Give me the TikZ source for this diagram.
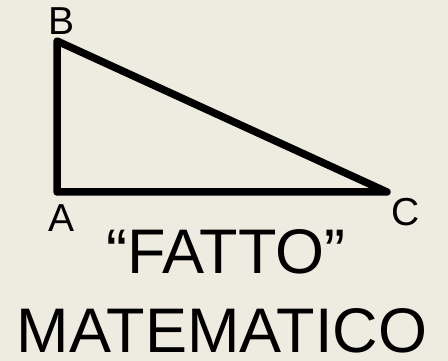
\documentclass[tikz,border=0pt]{standalone}
\usepackage{fontspec}
\setmainfont{Liberation Sans}
\definecolor{paperbeige}{RGB}{238, 235, 225}

\begin{document}
\begin{tikzpicture}[
        x=1pt, y=-1pt,
        every node/.style={align=center},
        vlabel/.style={font=\fontsize{39}{39}\selectfont, inner sep=0pt},
        bigtext/.style={font=\fontsize{63}{63}\selectfont, anchor=base, inner sep=0pt}
    ]
        % Background
        \fill[paperbeige] (0,0) rectangle (448,361);
        \useasboundingbox (0,0) rectangle (448,361);

        % Vertices
        \coordinate (a) at (57,192);
        \coordinate (b) at (57,41);
        \coordinate (c) at (387,192);

        % Triangle
        \draw[line width=7.5pt, line join=round, line cap=round] (b) -- (a) -- (c) -- cycle;

        % Labels
        \node[vlabel] (labA) at (62,218) {A};
        \node[vlabel] (labB) at (62,21) {B};
        \node[vlabel] (labC) at (406,212) {C};

        % Caption
        \node[bigtext] (fatto) at (226,273) {“FATTO”};
        \node[bigtext] (mate) at (222,352) {MATEMATICO};
    \end{tikzpicture}
\end{document}
